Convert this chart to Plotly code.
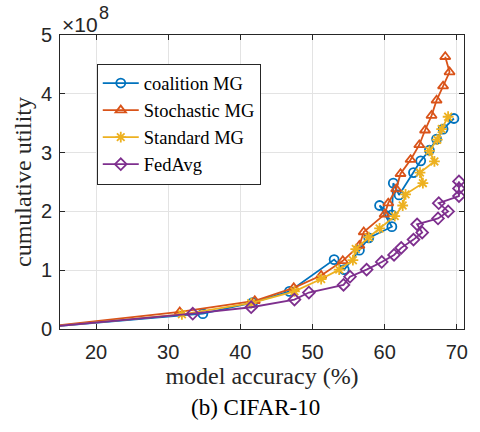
import plotly.graph_objects as go

# Data (x: model accuracy %, y: cumulative utility in 1e8)
coal_x = [10, 34.8, 41.7, 46.8, 53.0, 54.4, 56.5, 57.8, 61.0, 59.3, 61.0, 61.2, 62.0, 64.0, 65.0, 66.2, 67.2, 68.1, 69.6]
coal_y = [0.0, 0.26, 0.45, 0.64, 1.18, 1.01, 1.34, 1.55, 1.74, 2.10, 1.94, 2.48, 2.28, 2.66, 2.86, 3.04, 3.23, 3.40, 3.58]

stoch_x = [10, 31.6, 42.0, 47.4, 51.2, 54.2, 56.5, 57.1, 60.0, 60.5, 61.6, 62.2, 63.6, 64.8, 65.6, 66.5, 67.2, 68.1, 69.0, 68.4]
stoch_y = [0.0, 0.29, 0.48, 0.70, 0.91, 1.16, 1.42, 1.65, 1.95, 2.14, 2.38, 2.64, 2.88, 3.13, 3.38, 3.63, 3.89, 4.13, 4.37, 4.63]

std_x = [10, 31.9, 41.5, 47.5, 51.2, 53.7, 55.6, 56.0, 57.8, 59.3, 61.4, 62.5, 62.9, 65.3, 64.9, 66.9, 66.2, 67.3, 67.9, 68.8]
std_y = [0.0, 0.25, 0.44, 0.64, 0.85, 1.01, 1.17, 1.36, 1.56, 1.71, 1.92, 2.10, 2.29, 2.48, 2.66, 2.85, 3.03, 3.22, 3.40, 3.61]

fed_x = [10, 33.4, 41.5, 47.5, 49.5, 54.3, 55.2, 57.5, 59.6, 61.3, 62.3, 64.0, 65.2, 64.5, 67.4, 68.8, 67.5, 70.3, 70.3, 70.3]
fed_y = [0.0, 0.26, 0.37, 0.50, 0.62, 0.75, 0.89, 1.01, 1.14, 1.26, 1.38, 1.52, 1.64, 1.78, 1.88, 2.00, 2.14, 2.26, 2.39, 2.51]

x_ticks = [20, 30, 40, 50, 60, 70]
y_ticks = [0, 1, 2, 3, 4, 5]

SCALE = 1e8
SERIF = "Liberation Serif"
SANS = "Liberation Sans"

series = [
    ("coalition MG", coal_x, coal_y, "#0072BD", "circle-open"),
    ("Stochastic MG", stoch_x, stoch_y, "#D95319", "triangle-up-open"),
    ("Standard MG", std_x, std_y, "#EDB120", "asterisk-open"),
    ("FedAvg", fed_x, fed_y, "#7E2F8E", "diamond-open"),
]

fig = go.Figure()
for name, xs, ys, col, sym in series:
    fig.add_trace(go.Scatter(
        x=xs, y=[v * SCALE for v in ys], name=name, mode="lines+markers",
        line=dict(color=col, width=1.8),
        marker=dict(symbol=sym, size=9, color=col, line=dict(color=col, width=1.8)),
    ))

axis_common = dict(
    showline=True, linecolor="#262626", linewidth=1, mirror="ticks",
    ticks="inside", ticklen=5, tickcolor="#262626",
    showgrid=True, gridcolor="#E3E3E3", gridwidth=1, zeroline=False,
    tickfont=dict(family=SANS, size=20, color="#262626"),
)

fig.update_xaxes(
    range=[15, 71], tickvals=x_ticks, ticktext=[str(t) for t in x_ticks],
    ticklabelstandoff=5,
    title=dict(text="model accuracy (%)", font=dict(family=SERIF, size=24, color="#262626"), standoff=4),
    **axis_common,
)
fig.update_yaxes(
    range=[0, 5 * SCALE], tickvals=[t * SCALE for t in y_ticks], ticktext=[str(t) for t in y_ticks],
    ticklabelstandoff=3,
    title=dict(text="cumulative utility", font=dict(family=SERIF, size=24, color="#262626"), standoff=2),
    **axis_common,
)

fig.add_annotation(
    text="×10", xref="paper", yref="paper", x=0.0, y=1.0,
    xanchor="left", yanchor="middle", showarrow=False, xshift=0, yshift=11,
    font=dict(family=SANS, size=21, color="#262626"),
)
fig.add_annotation(
    text="8", xref="paper", yref="paper", x=0.0, y=1.0,
    xanchor="left", yanchor="middle", showarrow=False, xshift=37, yshift=22,
    font=dict(family=SANS, size=18, color="#262626"),
)
fig.add_annotation(
    text="(b) CIFAR-10", xref="paper", yref="paper", x=0.485, y=-0.268,
    xanchor="center", yanchor="middle", showarrow=False,
    font=dict(family=SERIF, size=23, color="#000000"),
)

fig.update_layout(
    width=480, height=432,
    margin=dict(l=60, r=13, t=35, b=103),
    paper_bgcolor="white", plot_bgcolor="white",
    legend=dict(
        x=0.091, y=0.903, xanchor="left", yanchor="top",
        bgcolor="white", bordercolor="#262626", borderwidth=1,
        font=dict(family=SERIF, size=18.5, color="#000000"),
        itemwidth=36, tracegroupgap=0,
    ),
    showlegend=True,
)

fig.write_html("out.html")
